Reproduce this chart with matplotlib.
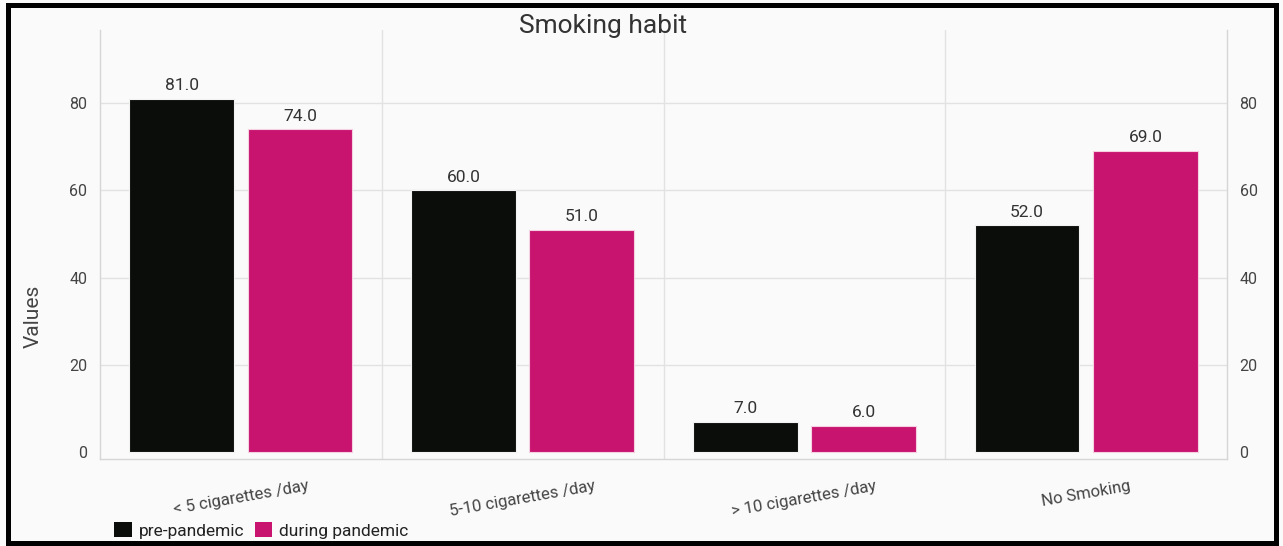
import matplotlib.pyplot as plt
from matplotlib.patches import Patch, Rectangle
import numpy as np

plt.rcParams['font.family'] = ['Roboto', 'DejaVu Sans']

categories = ["< 5 cigarettes /day", "5-10 cigarettes /day", "> 10 cigarettes /day", "No Smoking"]
pre_pandemic = [81.0, 60.0, 7.0, 52.0]
during_pandemic = [74.0, 51.0, 6.0, 69.0]

black = "#0a0d0a"
magenta = "#c8136f"
grid = "#e2e2e2"
text_col = "#444444"

fig = plt.figure(figsize=(12.83, 5.46), dpi=100, facecolor="#fafafa")
ax = fig.add_axes([0.0779, 0.1593, 0.8785, 0.786])
ax.set_facecolor("#fafafa")

x = np.arange(len(categories))
w = 0.372
b1 = ax.bar(x - 0.21, pre_pandemic, w, color=black, edgecolor="#f2f2f2", linewidth=0.8, zorder=3)
b2 = ax.bar(x + 0.21, during_pandemic, w, color=magenta, edgecolor="#f5d0e0", linewidth=0.8, zorder=3)

# value labels above each bar
for bars, vals in ((b1, pre_pandemic), (b2, during_pandemic)):
    for r, v in zip(bars, vals):
        ax.text(r.get_x() + r.get_width() / 2, v + 1.3, f"{v:.1f}", ha="center", va="bottom",
                fontsize=12.5, color="#333333")

ax.set_xlim(-0.5, len(categories) - 0.5)
ax.set_ylim(-1.6, 96.8)
ax.set_yticks([0, 20, 40, 60, 80])

# horizontal grid plus vertical separators between groups
for yv in [20, 40, 60, 80]:
    ax.axhline(yv, color=grid, lw=1, zorder=1)
for xv in [0.5, 1.5, 2.5]:
    ax.axvline(xv, color=grid, lw=1, zorder=1)

ax.spines["top"].set_visible(False)
for s in ["left", "right", "bottom"]:
    ax.spines[s].set_color("#d6d6d6")
    ax.spines[s].set_linewidth(1)

ax.set_xticks(x)
ax.set_xticklabels(categories, rotation=10, fontsize=12, color=text_col)
ax.tick_params(axis="x", length=0, pad=14)
ax.tick_params(axis="y", length=0, pad=9, labelsize=11.5, labelcolor=text_col,
               right=True, labelright=True)

fig.text(0.47, 0.953, "Smoking habit", ha="center", va="center", fontsize=19, color="#333333")
fig.text(0.026, 0.42, "Values", ha="center", va="center", rotation=90, fontsize=15, color=text_col)

handles = [Patch(facecolor=black, label="pre-pandemic"), Patch(facecolor=magenta, label="during pandemic")]
fig.legend(handles=handles, loc="lower left", bbox_to_anchor=(0.077, -0.015), ncol=2, frameon=False,
           fontsize=12.5, handlelength=1.0, handleheight=0.9, handletextpad=0.4, columnspacing=0.6,
           labelcolor="#222222")

# outer black frame
fig.patches.append(Rectangle((0.0065, 0.006), 0.988, 0.985, transform=fig.transFigure,
                             fill=False, edgecolor="black", linewidth=3.6))

fig.savefig("out.png", dpi=100, facecolor=fig.get_facecolor())
